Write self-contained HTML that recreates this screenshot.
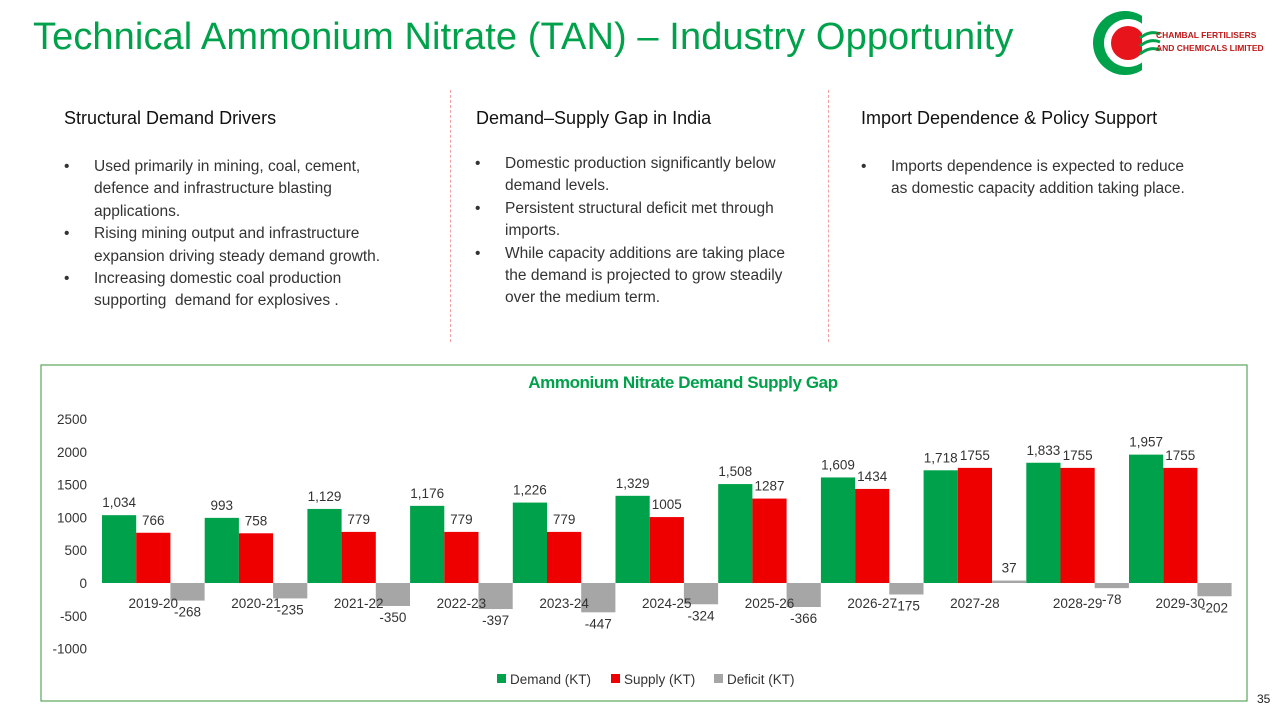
<!DOCTYPE html>
<html><head><meta charset="utf-8"><style>
body{margin:0;width:1285px;height:717px;background:#fff;font-family:"Liberation Sans",sans-serif;position:relative;overflow:hidden;color:#222}
.t{position:absolute}
h1{position:absolute;left:33px;top:16px;margin:0;font-weight:normal;font-size:38px;color:#00a14b;letter-spacing:0.1px;white-space:nowrap}
.hd{position:absolute;font-size:18px;color:#111;white-space:nowrap}
.ls{position:absolute;font-size:15.5px;line-height:22.4px;color:#333;white-space:nowrap}
.ls div{position:relative;padding-left:30px}
.ls div.b:before{content:"•";position:absolute;left:0;top:0}
.div{position:absolute;top:90px;height:252px;border-left:1px dashed #f2a0a0}
</style></head><body>
<h1>Technical Ammonium Nitrate (TAN) – Industry Opportunity</h1>
<svg class="t" style="left:1090px;top:8px" width="195" height="70">
<circle cx="35" cy="35" r="32" fill="#00a14b"/><circle cx="38" cy="35" r="24" fill="#fff"/><circle cx="38" cy="35" r="17" fill="#e8141b"/>
<rect x="52" y="0" width="18" height="70" fill="#fff"/>
<path d="M50 30 q10 -8 20 -4 M50 38 q10 -8 20 -4 M50 46 q10 -8 20 -4" stroke="#00a14b" stroke-width="3" fill="none"/>
<text x="66" y="30" font-size="8.5" font-weight="bold" fill="#c01818" font-family="Liberation Sans">CHAMBAL FERTILISERS</text>
<text x="66" y="43" font-size="8.5" font-weight="bold" fill="#c01818" font-family="Liberation Sans">AND CHEMICALS LIMITED</text>
</svg>
<div class="hd" style="left:64px;top:108px">Structural Demand Drivers</div>
<div class="ls" style="left:64px;top:156px">
<div class="b">Used primarily in mining, coal, cement,</div><div>defence and infrastructure blasting</div><div>applications.</div>
<div class="b">Rising mining output and infrastructure</div><div>expansion driving steady demand growth.</div>
<div class="b">Increasing domestic coal production</div><div>supporting &nbsp;demand for explosives .</div></div>
<div class="div" style="left:450px"></div>
<div class="hd" style="left:476px;top:108px">Demand–Supply Gap in India</div>
<div class="ls" style="left:475px;top:153px">
<div class="b">Domestic production significantly below</div><div>demand levels.</div>
<div class="b">Persistent structural deficit met through</div><div>imports.</div>
<div class="b">While capacity additions are taking place</div><div>the demand is projected to grow steadily</div><div>over the medium term.</div></div>
<div class="div" style="left:828px"></div>
<div class="hd" style="left:861px;top:108px">Import Dependence &amp; Policy Support</div>
<div class="ls" style="left:861px;top:156px">
<div class="b">Imports dependence is expected to reduce</div><div>as domestic capacity addition taking place.</div></div>
<svg id="chart" class="t" style="left:0;top:0" width="1285" height="717"></svg>
<div class="t" style="left:1257px;top:692px;font-size:12px">35</div>
<script>
const categories=["2019-20","2020-21","2021-22","2022-23","2023-24","2024-25","2025-26","2026-27","2027-28","2028-29","2029-30"];
const demand=[1034,993,1129,1176,1226,1329,1508,1609,1718,1833,1957];
const supply=[766,758,779,779,779,1005,1287,1434,1755,1755,1755];
const deficit=[-268,-235,-350,-397,-447,-324,-366,-175,37,-78,-202];
const ticks=[2500,2000,1500,1000,500,0,-500,-1000];
const NS="http://www.w3.org/2000/svg",svg=document.getElementById('chart');
const y=v=>583-v*0.0656, x0=102, pitch=102.7, bw=34.2;
function el(t,a,txt){const e=document.createElementNS(NS,t);for(const k in a)e.setAttribute(k,a[k]);if(txt!=null)e.textContent=txt;svg.appendChild(e);return e;}
const fmtC=v=>v>=1000?v.toLocaleString('en-US'):String(v);
let b=el('rect',{x:41,y:365,width:1206,height:336,fill:'none',stroke:'#5aa65a','stroke-width':1.2});

let tt=el('text',{x:683,y:388,'text-anchor':'middle','font-size':17,fill:'#00a14b','font-weight':'bold','font-family':'Liberation Sans','letter-spacing':'-0.4'},'Ammonium Nitrate Demand Supply Gap');

ticks.forEach(v=>{const e=el('text',{x:87,y:y(v)+5,'text-anchor':'end','font-size':13.5,fill:'#333','font-family':'Liberation Sans'},String(v));
});
const lab=(x,yy,t)=>{const e=el('text',{x:x,y:yy,'text-anchor':'middle','font-size':13.5,fill:'#333','font-family':'Liberation Sans'},t);};
categories.forEach((c,i)=>{
 const gx=x0+i*pitch;
 [[demand[i],'#00a14b','demand'],[supply[i],'#ee0000','supply'],[deficit[i],'#a6a6a6','deficit']].forEach((s,j)=>{
  const v=s[0],bx=gx+j*bw,top=Math.min(y(v),y(0)),h=Math.abs(y(v)-y(0));
  const r=el('rect',{x:bx,y:top,width:bw,height:h,fill:s[1]});
  
  const t=j==0?fmtC(v):String(v);
  if(v>=0)lab(bx+bw/2,y(v)-8,t);else lab(bx+bw/2,y(v)+16,t);
 });
 const e=el('text',{x:gx+bw*1.5,y:608,'text-anchor':'middle','font-size':13.5,fill:'#333','font-family':'Liberation Sans'},c);
 
});
[['Demand (KT)','#00a14b',497],['Supply (KT)','#ee0000',611],['Deficit (KT)','#a6a6a6',714]].forEach(l=>{
 const g=el('rect',{x:l[2],y:674,width:9,height:9,fill:l[1]});
 const t=el('text',{x:l[2]+13,y:684,'font-size':13.5,fill:'#333','font-family':'Liberation Sans'},l[0]);
});
</script>
</body></html>
